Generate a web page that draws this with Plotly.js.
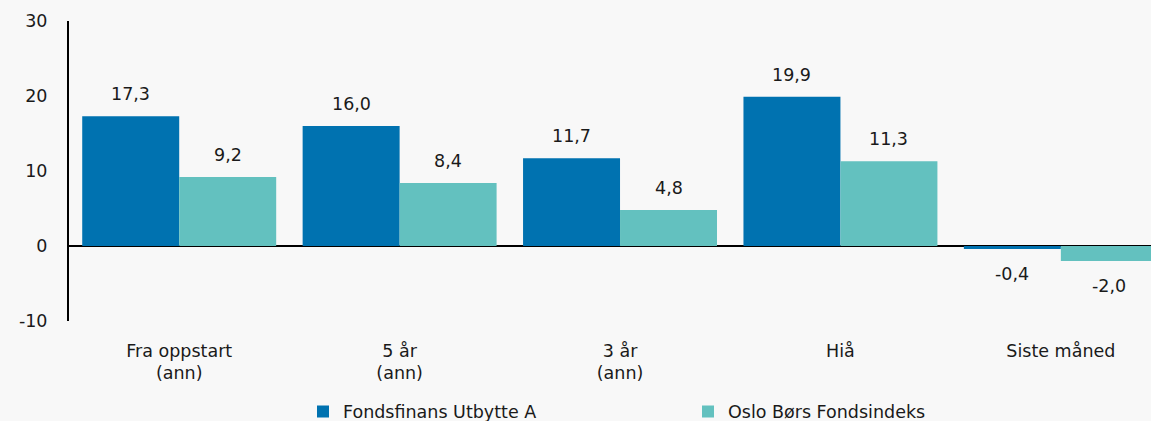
<!DOCTYPE html>
<html>
<head>
<meta charset="utf-8">
<script src="https://cdn.plot.ly/plotly-3.0.1.min.js"></script>
<style>
  html, body { margin: 0; padding: 0; background: #f8f8f8; }
  #chart { width: 1151px; height: 421px; }
</style>
</head>
<body>
<div id="chart"></div>
<script>
const categories = ["Fra oppstart<br>(ann)", "5 år<br>(ann)", "3 år<br>(ann)", "Hiå", "Siste måned"];
const seriesNames = ["Fondsfinans Utbytte A", "Oslo Børs Fondsindeks"];
const fundValues = [17.3, 16.0, 11.7, 19.9, -0.4];
const indexValues = [9.2, 8.4, 4.8, 11.3, -2.0];
const yTickVals = [-10, 0, 10, 20, 30];
const yTickText = ["-10", "0", "10", "20", "30"];
const colors = ["#0072b0", "#63c1bf"];

const FONT = "DejaVu Sans, Verdana, sans-serif";
const FS = 17.5;
const fmt = v => v.toFixed(1).replace(".", ",");

const traces = [
  { type: "bar", name: seriesNames[0], x: categories, y: fundValues,
    marker: { color: colors[0] }, hoverinfo: "none" },
  { type: "bar", name: seriesNames[1], x: categories, y: indexValues,
    marker: { color: colors[1] }, hoverinfo: "none" }
];

const annotations = [];
[fundValues, indexValues].forEach((vals, s) => {
  vals.forEach((v, i) => {
    annotations.push({
      x: categories[i], y: v, xref: "x", yref: "y",
      text: fmt(v), showarrow: false,
      xshift: s === 0 ? -48.5 : 48.5,
      yshift: v >= 0 ? 22 : -25,
      font: { family: FONT, size: FS, color: "#1a1a1a" }
    });
  });
});

const layout = {
  width: 1151, height: 421,
  paper_bgcolor: "#f8f8f8", plot_bgcolor: "#f8f8f8",
  font: { family: FONT, size: FS, color: "#1a1a1a" },
  margin: { l: 69, r: 0, t: 21, b: 100, autoexpand: false },
  barmode: "group", bargap: 0.12, bargroupgap: 0,
  showlegend: true,
  legend: {
    orientation: "h", x: 234 / 1082, xanchor: "left",
    y: -0.302, yanchor: "middle",
    entrywidth: 340, entrywidthmode: "pixels",
    font: { family: FONT, size: FS, color: "#1a1a1a" },
    bgcolor: "rgba(0,0,0,0)"
  },
  xaxis: {
    type: "category", range: [-0.5, 4.409],
    showgrid: false, zeroline: false, showline: false,
    ticks: "", ticklabelstandoff: 17,
    tickfont: { family: FONT, size: FS, color: "#1a1a1a" },
    fixedrange: true
  },
  yaxis: {
    range: [-10, 30], tickvals: yTickVals, ticktext: yTickText,
    showgrid: false, showline: true, linecolor: "#000", linewidth: 2,
    zeroline: true, zerolinecolor: "#000", zerolinewidth: 2,
    ticks: "", ticklabelstandoff: 16,
    tickfont: { family: FONT, size: FS, color: "#1a1a1a" },
    fixedrange: true
  },
  annotations: annotations
};

Plotly.newPlot("chart", traces, layout, { displayModeBar: false, staticPlot: true });
</script>
</body>
</html>
